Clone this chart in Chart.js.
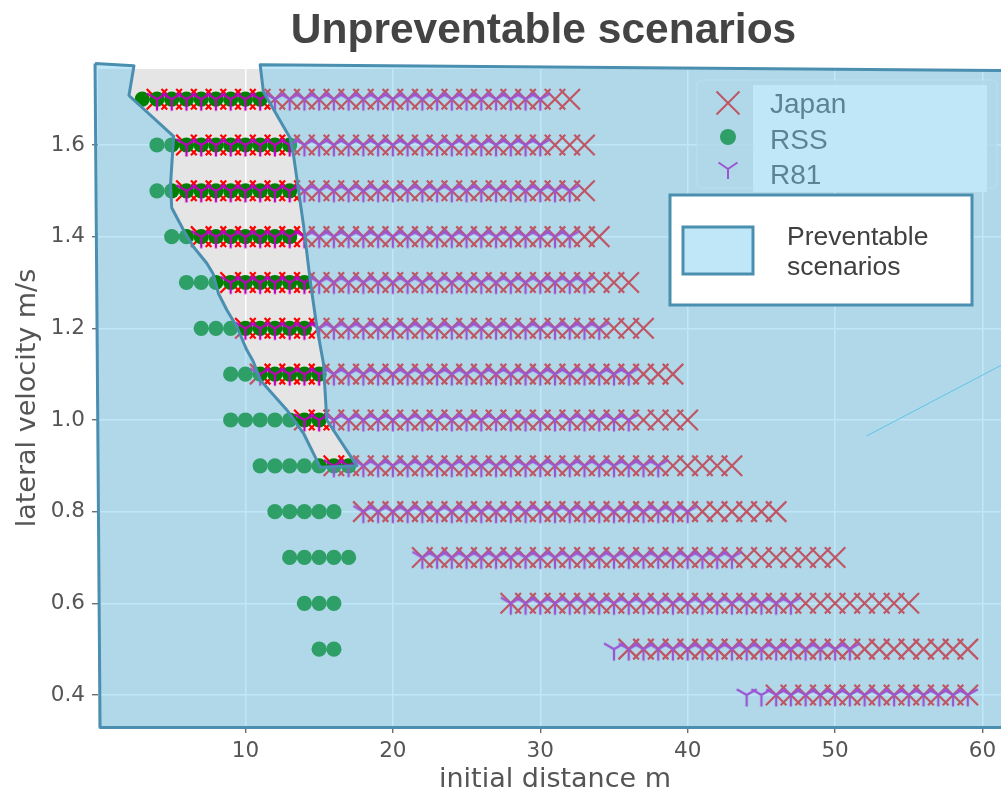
<!DOCTYPE html>
<html>
<head>
<meta charset="utf-8">
<title>Unpreventable scenarios</title>
<script src="https://cdn.jsdelivr.net/npm/chart.js@4.4.1/dist/chart.umd.min.js"></script>
<style>
  html, body { margin: 0; padding: 0; background: #fff; overflow: hidden; width: 1001px; height: 796px; }
  #wrap { position: absolute; left: 0; top: 0; width: 1030px; height: 796px; }
</style>
</head>
<body>
<div id="wrap"><canvas id="chart" width="1030" height="796"></canvas></div>
<script>
// Lateral velocity of each scenario row (m/s)
const lateralVelocity = [1.7, 1.6, 1.5, 1.4, 1.3, 1.2, 1.1, 1.0, 0.9, 0.8, 0.7, 0.6, 0.5, 0.4];
// First and last initial distance (m) of the unpreventable cases in each row
const japanFirst = [4, 6, 6, 7, 9, 10, 11, 14, 16, 18, 22, 28, 36, 46];
const japanLast  = [32, 33, 33, 34, 36, 37, 39, 40, 43, 46, 50, 55, 59, 59];
const rssFirst   = [3, 4, 4, 5, 6, 7, 9, 9, 11, 12, 13, 14, 15, null];
const rssLast    = [11, 13, 13, 13, 14, 14, 15, 15, 17, 16, 17, 16, 16, null];
const r81First   = [4, 6, 6, 7, 9, 10, 11, 14, 16, 18, 22, 28, 35, 44];
const r81Last    = [30, 30, 32, 32, 33, 34, 36, 36, 38, 40, 43, 47, 51, 59];
// Spacing of the initial-distance grid (m)
const distanceStep = 1;

// Outline of the preventable region (initial distance m, lateral velocity m/s)
const regionX = [-0.2, 2.44, 2.1, 5.13, 4.92, 5.0, 5.79, 6.47, 7.38, 7.81, 8.17, 8.74, 9.41, 10.09,
                 10.54, 11.0, 12.81, 13.94, 15.07, 17.56, 15.52, 15.41, 15.29, 14.84, 14.39, 13.94,
                 13.26, 13.03, 11.22, 11.0, 63.5, 63.5, 0.14, -0.2];
const regionY = [1.778, 1.773, 1.708, 1.619, 1.513, 1.463, 1.415, 1.378, 1.342, 1.319, 1.276, 1.24, 1.204, 1.153,
                 1.127, 1.087, 1.022, 0.971, 0.897, 0.9, 1.0, 1.059, 1.124, 1.204, 1.305, 1.425,
                 1.578, 1.615, 1.716, 1.775, 1.762, 0.329, 0.329, 1.778];
// Thin guide line on the right
const guideX = [52.13, 63.5];
const guideY = [0.965, 1.157];

const xTicks = [10, 20, 30, 40, 50, 60];
const yTicks = [0.4, 0.6, 0.8, 1.0, 1.2, 1.4, 1.6];

const overlayFill = 'rgba(106, 199, 236, 0.43)';
const edgeColor = '#4a8fb0';
const japanColor = '#ff0000';
const rssColor = '#008000';
const r81Color = '#bf00bf';

function rowPoints(first, last) {
  const pts = [];
  lateralVelocity.forEach((v, i) => {
    if (first[i] == null) return;
    for (let d = first[i]; d <= last[i]; d += distanceStep) pts.push({ x: d, y: v });
  });
  return pts;
}
function zipPoints(xs, ys) { return xs.map((x, i) => ({ x, y: ys[i] })); }

// "tri_down" marker drawn on a small canvas
function triDown(size, r, color, lw) {
  const c = document.createElement('canvas');
  c.width = c.height = size;
  const g = c.getContext('2d');
  const m = size / 2;
  g.strokeStyle = color;
  g.lineWidth = lw;
  g.beginPath();
  g.moveTo(m, m); g.lineTo(m, m + r);
  g.moveTo(m, m); g.lineTo(m - 0.866 * r, m - 0.5 * r);
  g.moveTo(m, m); g.lineTo(m + 0.866 * r, m - 0.5 * r);
  g.stroke();
  return c;
}
const triMarker = triDown(30, 11.5, r81Color, 2.3);
const REGION = 3;

function drawMarkerLegend(ctx) {
  ctx.save();
  // frame
  const x = 697, y = 80, w = 300, h = 108, r = 5;
  ctx.beginPath();
  ctx.moveTo(x + r, y); ctx.arcTo(x + w, y, x + w, y + h, r); ctx.arcTo(x + w, y + h, x, y + h, r);
  ctx.arcTo(x, y + h, x, y, r); ctx.arcTo(x, y, x + w, y, r); ctx.closePath();
  ctx.fillStyle = 'rgba(229,229,229,0.8)';
  ctx.fill();
  ctx.strokeStyle = 'rgba(250,250,250,0.7)';
  ctx.lineWidth = 1;
  ctx.stroke();
  ctx.fillStyle = '#ffffff';
  ctx.fillRect(753, 85, 234, 107);
  // keys
  ctx.strokeStyle = japanColor; ctx.lineWidth = 2;
  ctx.beginPath();
  ctx.moveTo(716.5, 91.5); ctx.lineTo(739.5, 114.5);
  ctx.moveTo(739.5, 91.5); ctx.lineTo(716.5, 114.5);
  ctx.stroke();
  ctx.fillStyle = rssColor;
  ctx.beginPath(); ctx.arc(728, 137, 8, 0, Math.PI * 2); ctx.fill();
  ctx.strokeStyle = r81Color; ctx.lineWidth = 2;
  ctx.beginPath();
  ctx.moveTo(728, 169); ctx.lineTo(728, 179);
  ctx.moveTo(728, 169); ctx.lineTo(718.5, 162.5);
  ctx.moveTo(728, 169); ctx.lineTo(737.5, 162.5);
  ctx.stroke();
  // labels
  ctx.fillStyle = '#505050';
  ctx.font = '28px "Liberation Sans", Arial, sans-serif';
  ctx.textBaseline = 'alphabetic';
  ctx.textAlign = 'left';
  ctx.fillText('Japan', 770, 113);
  ctx.fillText('RSS', 770, 148.5);
  ctx.fillText('R81', 770, 183.5);
  ctx.restore();
}

function drawRegionLegend(ctx) {
  ctx.save();
  ctx.fillStyle = '#ffffff';
  ctx.fillRect(670, 195, 302, 110);
  ctx.strokeStyle = edgeColor; ctx.lineWidth = 3;
  ctx.strokeRect(670, 195, 302, 110);
  ctx.fillStyle = overlayFill;
  ctx.fillRect(683, 227, 70, 47);
  ctx.strokeRect(683, 227, 70, 47);
  ctx.fillStyle = '#404040';
  ctx.font = '26.5px "Liberation Sans", Arial, sans-serif';
  ctx.textAlign = 'left';
  ctx.textBaseline = 'alphabetic';
  ctx.fillText('Preventable', 787, 245);
  ctx.fillText('scenarios', 787, 275);
  ctx.restore();
}

const decor = {
  id: 'decor',
  beforeDraw(chart) {
    const { ctx, chartArea: a } = chart;
    ctx.save();
    ctx.fillStyle = '#e5e5e5';
    ctx.fillRect(a.left, a.top, a.right - a.left, a.bottom - a.top);
    ctx.restore();
  },
  beforeDatasetsDraw(chart) {
    drawMarkerLegend(chart.ctx);
  },
  beforeDatasetDraw(chart, args) {
    if (args.index !== REGION) return;
    const ctx = chart.ctx;
    const pts = args.meta.data;
    ctx.save();
    ctx.beginPath();
    pts.forEach((p, i) => (i ? ctx.lineTo(p.x, p.y) : ctx.moveTo(p.x, p.y)));
    ctx.closePath();
    ctx.fillStyle = overlayFill;
    ctx.fill();
    ctx.restore();
  },
  afterDatasetsDraw(chart) {
    drawRegionLegend(chart.ctx);
  },
  afterDraw(chart) {
    const ctx = chart.ctx;
    ctx.save();
    ctx.fillStyle = '#444444';
    ctx.font = 'bold 42.5px "Liberation Sans", Arial, sans-serif';
    ctx.textAlign = 'center';
    ctx.textBaseline = 'alphabetic';
    ctx.fillText('Unpreventable scenarios', 543.5, 43);
    ctx.restore();
  }
};

const tickFont = { family: '"DejaVu Sans", sans-serif', size: 21.5 };
const titleFont = { family: '"DejaVu Sans", sans-serif', size: 27, lineHeight: 1 };

new Chart(document.getElementById('chart'), {
  type: 'scatter',
  data: {
    datasets: [
      { label: 'Japan', data: rowPoints(japanFirst, japanLast), pointStyle: 'crossRot', pointRadius: 14.5,
        pointBorderWidth: 2.2, pointBorderColor: japanColor, borderColor: japanColor,
        pointBackgroundColor: 'rgba(0,0,0,0)', order: 4 },
      { label: 'RSS', data: rowPoints(rssFirst, rssLast), pointStyle: 'circle', pointRadius: 7.6,
        pointBorderWidth: 0, pointBackgroundColor: rssColor, backgroundColor: rssColor, order: 3 },
      { label: 'R81', data: rowPoints(r81First, r81Last), pointStyle: triMarker, pointRadius: 10, order: 2 },
      { label: 'Preventable scenarios', data: zipPoints(regionX, regionY), showLine: true, fill: false,
        borderColor: edgeColor, borderWidth: 3, borderJoinStyle: 'round', pointRadius: 0, clip: false, order: 1 },
      { label: 'guide', data: zipPoints(guideX, guideY), showLine: true, fill: false,
        borderColor: '#62c3ec', borderWidth: 1, pointRadius: 0, clip: false, order: 0 }
    ]
  },
  options: {
    responsive: false,
    animation: false,
    events: [],
    layout: { padding: { left: 0, top: 69, right: 18, bottom: 0 } },
    plugins: { legend: { display: false }, tooltip: { enabled: false }, title: { display: false } },
    scales: {
      x: {
        type: 'linear', min: 0, max: 62,
        afterBuildTicks: s => { s.ticks = xTicks.map(v => ({ value: v })); },
        afterFit: s => { s.height = 69; },
        border: { display: false },
        grid: { color: '#ffffff', lineWidth: 1.5, tickLength: 6, tickColor: '#555555', tickWidth: 1.2 },
        ticks: { color: '#555555', font: tickFont, padding: 6, maxRotation: 0, callback: v => String(v) },
        title: { display: true, text: 'initial distance m', color: '#555555', font: titleFont, padding: { top: 0, bottom: 3 } }
      },
      y: {
        type: 'linear', min: 0.3301, max: 1.7658,
        afterBuildTicks: s => { s.ticks = yTicks.map(v => ({ value: v })); },
        afterFit: s => { s.width = 98; },
        border: { display: false },
        grid: { color: '#ffffff', lineWidth: 1.5, tickLength: 6, tickColor: '#555555', tickWidth: 1.2 },
        ticks: { color: '#555555', font: tickFont, padding: 7, callback: v => Number(v).toFixed(1) },
        title: { display: true, text: 'lateral velocity m/s', color: '#555555', font: titleFont, padding: { top: 14, bottom: 0 } }
      }
    }
  },
  plugins: [decor]
});
</script>
</body>
</html>
